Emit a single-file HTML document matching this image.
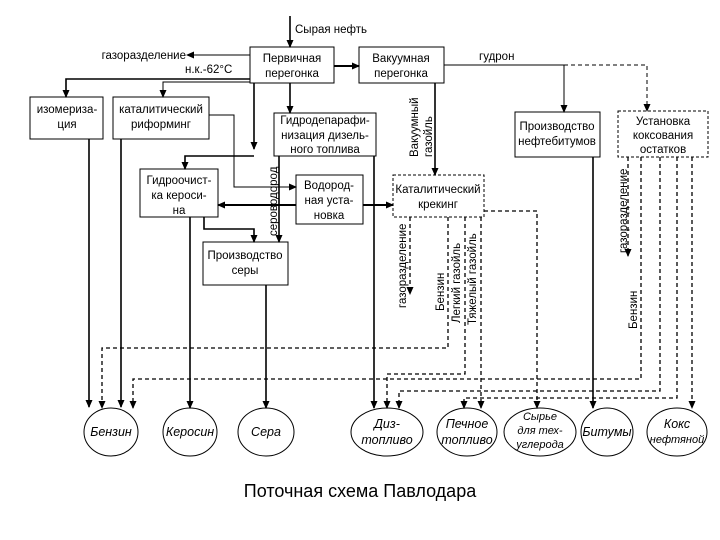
<!DOCTYPE html>
<html><head><meta charset="utf-8"><style>
html,body{margin:0;padding:0;background:#fff;}
svg{display:block;}
text{font-family:"Liberation Sans","DejaVu Sans",sans-serif;font-size:11.5px;fill:#000;}
.it{font-style:italic;font-size:12.5px;}
</style></head><body>
<svg width="720" height="540" viewBox="0 0 720 540" xmlns="http://www.w3.org/2000/svg">
<defs>
<marker id="a" markerWidth="8" markerHeight="8" refX="7" refY="4" orient="auto" markerUnits="userSpaceOnUse">
<path d="M0,0.5 L8,4 L0,7.5 z" fill="#000"/></marker>
</defs>
<g fill="none" stroke="#000" stroke-width="1">
<!-- boxes -->
<rect x="250" y="47" width="84" height="36"/>
<rect x="359" y="47" width="85" height="36"/>
<rect x="30" y="97" width="73" height="42"/>
<rect x="113" y="97" width="96" height="42"/>
<rect x="274" y="113" width="102" height="43"/>
<rect x="140" y="169" width="78" height="48"/>
<rect x="296" y="175" width="67" height="49"/>
<rect x="203" y="242" width="85" height="43"/>
<rect x="515" y="112" width="85" height="45"/>
<rect x="393" y="175" width="91" height="42" stroke-dasharray="3,2"/>
<rect x="618" y="111" width="90" height="46" stroke-dasharray="3,2"/>
<!-- ellipses -->
<ellipse cx="111" cy="432" rx="27" ry="24"/>
<ellipse cx="190" cy="432" rx="27" ry="24"/>
<ellipse cx="266" cy="432" rx="28" ry="24"/>
<ellipse cx="387" cy="432" rx="36" ry="24"/>
<ellipse cx="467" cy="432" rx="30" ry="24"/>
<ellipse cx="540" cy="432" rx="36" ry="24"/>
<ellipse cx="607" cy="432" rx="26" ry="24"/>
<ellipse cx="677" cy="432" rx="30" ry="24"/>
</g>
<g fill="none" stroke="#000" stroke-width="1.6" marker-end="url(#a)">
<path d="M290,16 V47"/>
<path d="M250,55 H187" stroke-width="1"/>
<path d="M334,66 H359" stroke-width="2"/>
<path d="M250,79 H66 V97"/>
<path d="M250,82 H163 V97" stroke-width="1"/>
<path d="M254,83 V149"/>
<path d="M254,156 H185 V169"/>
<path d="M290,83 V113"/>
<path d="M209,115 H234 V187 H296" stroke-width="1"/>
<path d="M296,205 H218" stroke-width="2"/>
<path d="M363,205 H393" stroke-width="2"/>
<path d="M204,217 V229 H254 V242"/>
<path d="M279,156 V242"/>
<path d="M435,83 V175"/>
<path d="M444,65 H564 V112" stroke-width="1"/>
<path d="M89,139 V407"/>
<path d="M121,139 V407"/>
<path d="M190,217 V408"/>
<path d="M266,285 V408"/>
<path d="M374,156 V408"/>
<path d="M593,157 V408"/>
</g>
<g fill="none" stroke="#000" stroke-width="1.3" stroke-dasharray="4,3" marker-end="url(#a)">
<path d="M564,65 H647 V111" stroke-width="1" marker-end="url(#a)"/>
<path d="M410,217 V294"/>
<path d="M448,217 V348 H102 V408"/>
<path d="M465,217 V374 H387 V408"/>
<path d="M481,217 V408"/>
<path d="M484,211 H537 V408"/>
<path d="M628,157 V256"/>
<path d="M641,157 V379 H133 V408"/>
<path d="M660,157 V391 H399 V408"/>
<path d="M677,157 V398 H464 V408"/>
<path d="M692,157 V408"/>
</g>
<!-- text -->
<text x="295" y="33">Сырая нефть</text>
<text x="186" y="59" text-anchor="end">газоразделение</text>
<text x="185" y="73">н.к.-62°С</text>
<text x="292" y="62" text-anchor="middle">Первичная</text>
<text x="292" y="77" text-anchor="middle">перегонка</text>
<text x="401" y="62" text-anchor="middle">Вакуумная</text>
<text x="401" y="77" text-anchor="middle">перегонка</text>
<text x="479" y="60">гудрон</text>
<text x="67" y="113" text-anchor="middle">изомериза-</text>
<text x="67" y="128" text-anchor="middle">ция</text>
<text x="161" y="113" text-anchor="middle">каталитический</text>
<text x="161" y="128" text-anchor="middle">риформинг</text>
<text x="325" y="124" text-anchor="middle">Гидродепарафи-</text>
<text x="325" y="139" text-anchor="middle">низация дизель-</text>
<text x="325" y="153" text-anchor="middle">ного топлива</text>
<text x="179" y="184" text-anchor="middle">Гидроочист-</text>
<text x="179" y="199" text-anchor="middle">ка кероси-</text>
<text x="179" y="214" text-anchor="middle">на</text>
<text x="329" y="189" text-anchor="middle">Водород-</text>
<text x="329" y="204" text-anchor="middle">ная уста-</text>
<text x="329" y="219" text-anchor="middle">новка</text>
<text x="245" y="259" text-anchor="middle">Производство</text>
<text x="245" y="274" text-anchor="middle">серы</text>
<text x="438" y="193" text-anchor="middle">Каталитический</text>
<text x="438" y="208" text-anchor="middle">крекинг</text>
<text x="557" y="130" text-anchor="middle">Производство</text>
<text x="557" y="145" text-anchor="middle">нефтебитумов</text>
<text x="663" y="125" text-anchor="middle">Установка</text>
<text x="663" y="139" text-anchor="middle">коксования</text>
<text x="663" y="153" text-anchor="middle">остатков</text>
<text transform="translate(277,236) rotate(-90)">сероводород</text>
<text transform="translate(418,157) rotate(-90)">Вакуумный</text>
<text transform="translate(432,157) rotate(-90)">газойль</text>
<text transform="translate(406,308) rotate(-90)">газоразделение</text>
<text transform="translate(444,311) rotate(-90)">Бензин</text>
<text transform="translate(460,323) rotate(-90)">Легкий газойль</text>
<text transform="translate(476,325) rotate(-90)">Тяжелый газойль</text>
<text transform="translate(627,253) rotate(-90)">газоразделение</text>
<text transform="translate(637,329) rotate(-90)">Бензин</text>
<text class="it" x="111" y="436" text-anchor="middle">Бензин</text>
<text class="it" x="190" y="436" text-anchor="middle">Керосин</text>
<text class="it" x="266" y="436" text-anchor="middle">Сера</text>
<text class="it" x="387" y="428" text-anchor="middle">Диз-</text>
<text class="it" x="387" y="444" text-anchor="middle">топливо</text>
<text class="it" x="467" y="428" text-anchor="middle">Печное</text>
<text class="it" x="467" y="444" text-anchor="middle">топливо</text>
<text class="it" x="540" y="420" text-anchor="middle" style="font-size:11px">Сырье</text>
<text class="it" x="540" y="434" text-anchor="middle" style="font-size:11px">для тех-</text>
<text class="it" x="540" y="448" text-anchor="middle" style="font-size:11px">углерода</text>
<text class="it" x="607" y="436" text-anchor="middle">Битумы</text>
<text class="it" x="677" y="428" text-anchor="middle">Кокс</text>
<text class="it" x="677" y="443" text-anchor="middle" style="font-size:11px">нефтяной</text>
<text x="360" y="497" text-anchor="middle" style="font-size:18px">Поточная схема Павлодара</text>
</svg>
</body></html>
